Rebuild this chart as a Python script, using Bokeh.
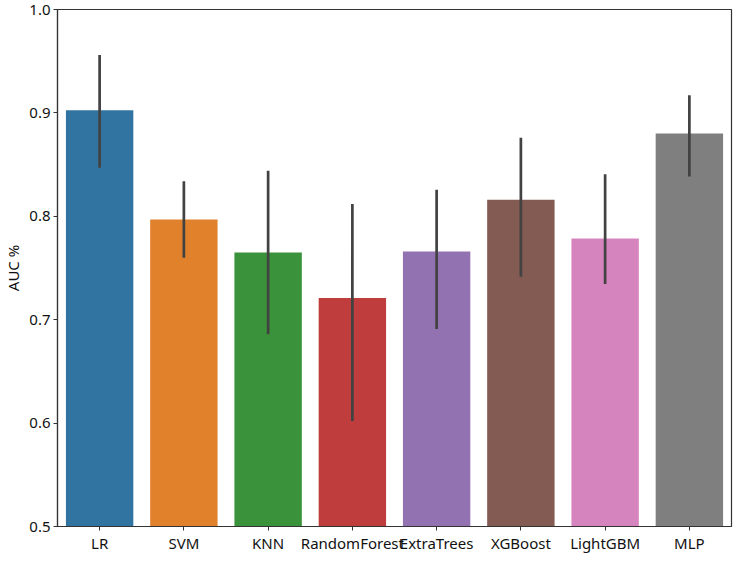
from bokeh.plotting import figure
from bokeh.models import ColumnDataSource, FixedTicker, PrintfTickFormatter
from bokeh.embed import file_html
from bokeh.resources import INLINE

models = ["LR", "SVM", "KNN", "RandomForest", "ExtraTrees", "XGBoost", "LightGBM", "MLP"]
auc = [0.9025, 0.797, 0.765, 0.721, 0.766, 0.816, 0.7785, 0.880]
err_low = [0.847, 0.760, 0.686, 0.602, 0.691, 0.7415, 0.7345, 0.8385]
err_high = [0.956, 0.834, 0.844, 0.812, 0.8256, 0.876, 0.8406, 0.917]
colors = ["#3274a1", "#e1812c", "#3a923a", "#c03d3e", "#9372b2", "#845b53", "#d684bd", "#7f7f7f"]
y_ticks = [0.5, 0.6, 0.7, 0.8, 0.9, 1.0]

src = ColumnDataSource(dict(m=models, auc=auc, lo=err_low, hi=err_high, c=colors))

FONT = "Noto Sans"
p = figure(x_range=models, y_range=(0.5, 1.0), width=733, height=555,
           output_backend="svg", toolbar_location=None,
           min_border_left=0, min_border_right=2, min_border_top=9, min_border_bottom=0)
p.vbar(x="m", top="auc", bottom=0.5, width=0.8, fill_color="c", line_color=None, source=src)
p.segment(x0="m", x1="m", y0="lo", y1="hi", line_color="#424242", line_width=2.7, source=src)

p.xgrid.visible = False
p.ygrid.visible = False
p.outline_line_color = "#333333"
p.outline_line_width = 1.2
p.background_fill_color = "white"
p.border_fill_color = "white"

p.yaxis.ticker = FixedTicker(ticks=y_ticks)
p.yaxis.formatter = PrintfTickFormatter(format="%.1f")
p.yaxis.axis_label = "AUC %"
for ax in (p.xaxis[0], p.yaxis[0]):
    ax.axis_line_color = "#333333"
    ax.axis_line_width = 1.2
    ax.major_tick_line_color = "#333333"
    ax.major_tick_out = 4
    ax.major_tick_in = 0
    ax.minor_tick_line_color = None
    ax.major_label_text_font = FONT
    ax.major_label_text_font_size = "15px"
    ax.major_label_text_color = "#111111"
    ax.axis_label_text_font = FONT
    ax.axis_label_text_font_size = "15px"
    ax.axis_label_text_font_style = "normal"
    ax.axis_label_text_color = "#111111"
p.xaxis.major_label_standoff = 2
p.yaxis.major_label_standoff = 3
p.yaxis.axis_label_standoff = 3

open("out.html", "w").write(file_html(p, INLINE))
